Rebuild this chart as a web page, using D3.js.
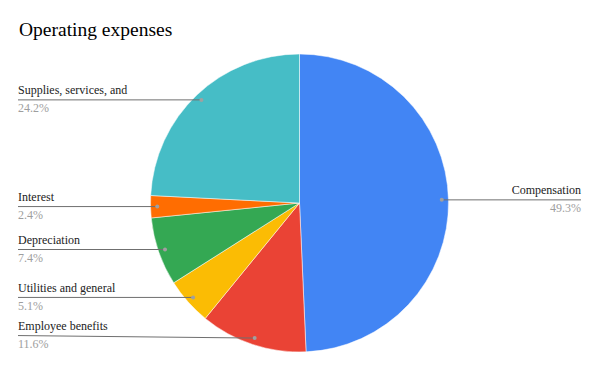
<!DOCTYPE html>
<html>
<head>
<meta charset="utf-8">
<script src="https://cdn.jsdelivr.net/npm/d3@7"></script>
<style>
  body { margin: 0; background: #fff; }
  svg { display: block; }
</style>
</head>
<body>
<svg class="chart"></svg>
<script>
"use strict";
var width = 600, height = 371;
var serifFont = "'Liberation Serif'";

// data
var categories = ["Compensation", "Employee benefits", "Utilities and general", "Depreciation", "Interest", "Supplies, services, and"];
var values = [49.3, 11.6, 5.1, 7.4, 2.4, 24.2];
var labels = ["49.3%", "11.6%", "5.1%", "7.4%", "2.4%", "24.2%"];
var colors = ["#4285f4", "#ea4335", "#fbbc04", "#34a853", "#ff6d01", "#46bdc6"];

var cx = 299.5, cy = 203, radius = 149;
var dotRadius = radius * 0.955;

var svg = d3.select(".chart")
	.attr("width", width)
	.attr("height", height);

svg.append("rect")
	.attr("width", width)
	.attr("height", height)
	.attr("fill", "#ffffff");

// title
svg.append("text")
	.attr("x", 19)
	.attr("y", 36)
	.style("font-family", serifFont)
	.style("font-size", "19.5px")
	.attr("fill", "#000")
	.text("Operating expenses");

var pie = d3.pie().sort(null).value(function(d){ return d; });
var arcs = pie(values);
var arc = d3.arc().innerRadius(0).outerRadius(radius);

var g = svg.append("g")
	.attr("transform", "translate(" + cx + "," + cy + ")");

g.selectAll("path")
	.data(arcs)
	.enter()
	.append("path")
	.attr("d", arc)
	.attr("fill", function(d, i){ return colors[i]; })
	.attr("stroke", "#ffffff")
	.attr("stroke-width", 0.5);

// labels with leader lines
function dotPos(d) {
	var a = (d.startAngle + d.endAngle) / 2;
	return [cx + Math.sin(a) * dotRadius, cy - Math.cos(a) * dotRadius];
}

var labelGroup = svg.append("g");

arcs.forEach(function(d, i) {
	var p = dotPos(d);
	var right = p[0] > cx;
	var ly = p[1];
	if (i == 1) ly = p[1] - 2.5; // nudged up like the original
	var lx = right ? 581 : 18;
	labelGroup.append("line")
		.attr("x1", lx)
		.attr("y1", ly)
		.attr("x2", p[0])
		.attr("y2", p[1])
		.attr("stroke", "#6f6f6f")
		.attr("stroke-width", 1);
	labelGroup.append("circle")
		.attr("cx", p[0])
		.attr("cy", p[1])
		.attr("r", 2)
		.attr("fill", "#a0a0a0");
	labelGroup.append("text")
		.attr("x", lx)
		.attr("y", ly - 5.5)
		.attr("text-anchor", right ? "end" : "start")
		.style("font-family", serifFont)
		.style("font-size", "12px")
		.attr("fill", "#222")
		.text(categories[i]);
	labelGroup.append("text")
		.attr("x", lx)
		.attr("y", ly + 12.5)
		.attr("text-anchor", right ? "end" : "start")
		.style("font-family", serifFont)
		.style("font-size", "12px")
		.attr("fill", "#9e9e9e")
		.text(labels[i]);
});
</script>
</body>
</html>
